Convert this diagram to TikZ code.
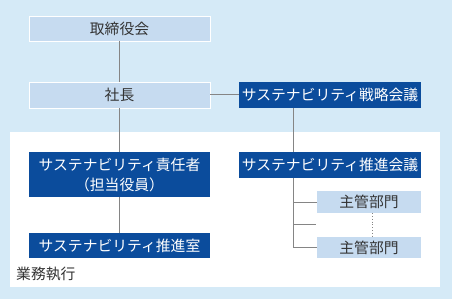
\documentclass[tikz,border=0pt]{standalone}
\usepackage{fontspec}
\setmainfont{Noto Sans CJK JP}
\definecolor{bgblue}{HTML}{D5EAF7}
\definecolor{lightbox}{HTML}{C6DBF0}
\definecolor{darkbox}{HTML}{0B4C9C}
\definecolor{linegray}{HTML}{858585}
\definecolor{txt}{HTML}{333333}
\begin{document}
\begin{tikzpicture}[x=1pt,y=-1pt,
  every node/.style={inner sep=0pt, font=\fontsize{14.8}{20}\selectfont},
  lbox/.style={fill=lightbox, draw=white, line width=0.8pt, text=txt, align=center},
  dbox/.style={fill=darkbox, text=white, align=center},
  conn/.style={draw=linegray, line width=1pt}]
\useasboundingbox (0,0) rectangle (452,299);
\fill[bgblue] (0,0) rectangle (452,299);
\fill[white] (10,132) rectangle (440,287);
\node[lbox, minimum width=181pt, minimum height=25pt] (bod) at (119.5,28.5) {取締役会};
\node[lbox, minimum width=181pt, minimum height=26pt] (pres) at (119.5,95) {社長};
\node[dbox, minimum width=182pt, minimum height=26pt] (strat) at (330,95) {サステナビリティ戦略会議};
\node[dbox, minimum width=181pt, minimum height=45pt] (resp) at (119.5,174.5) {サステナビリティ責任者\\（担当役員）};
\node[dbox, minimum width=181pt, minimum height=25pt] (office) at (119.5,245.5) {サステナビリティ推進室};
\node[dbox, minimum width=182pt, minimum height=26pt] (prom) at (330,165) {サステナビリティ推進会議};
\node[fill=lightbox, text=txt, minimum width=104pt, minimum height=22pt] (dept1) at (369,202) {主管部門};
\node[fill=lightbox, text=txt, minimum width=104pt, minimum height=21pt] (dept2) at (369,247.5) {主管部門};
\node[text=txt, anchor=west] (exec) at (16,274) {業務執行};
\coordinate (bx) at (293,0);
\coordinate (mid) at (316,224);
\draw[conn] (bod.south) -- (pres.north);
\draw[conn] (pres.south) -- (resp.north);
\draw[conn] (resp.south) -- (office.north);
\draw[conn] (pres.east) -- (strat.west);
\draw[conn] (bx |- strat.south) -- (bx |- prom.north);
\draw[conn] (bx |- prom.south) -- (bx |- dept2.west) -- (dept2.west);
\draw[conn] (bx |- dept1.west) -- (dept1.west);
\draw[conn] (bx |- mid) -- (mid);
\draw[draw=linegray, line width=0.8pt, dotted] ([xshift=3pt]dept1.south) -- ([xshift=3pt]dept2.north);
\end{tikzpicture}
\end{document}
